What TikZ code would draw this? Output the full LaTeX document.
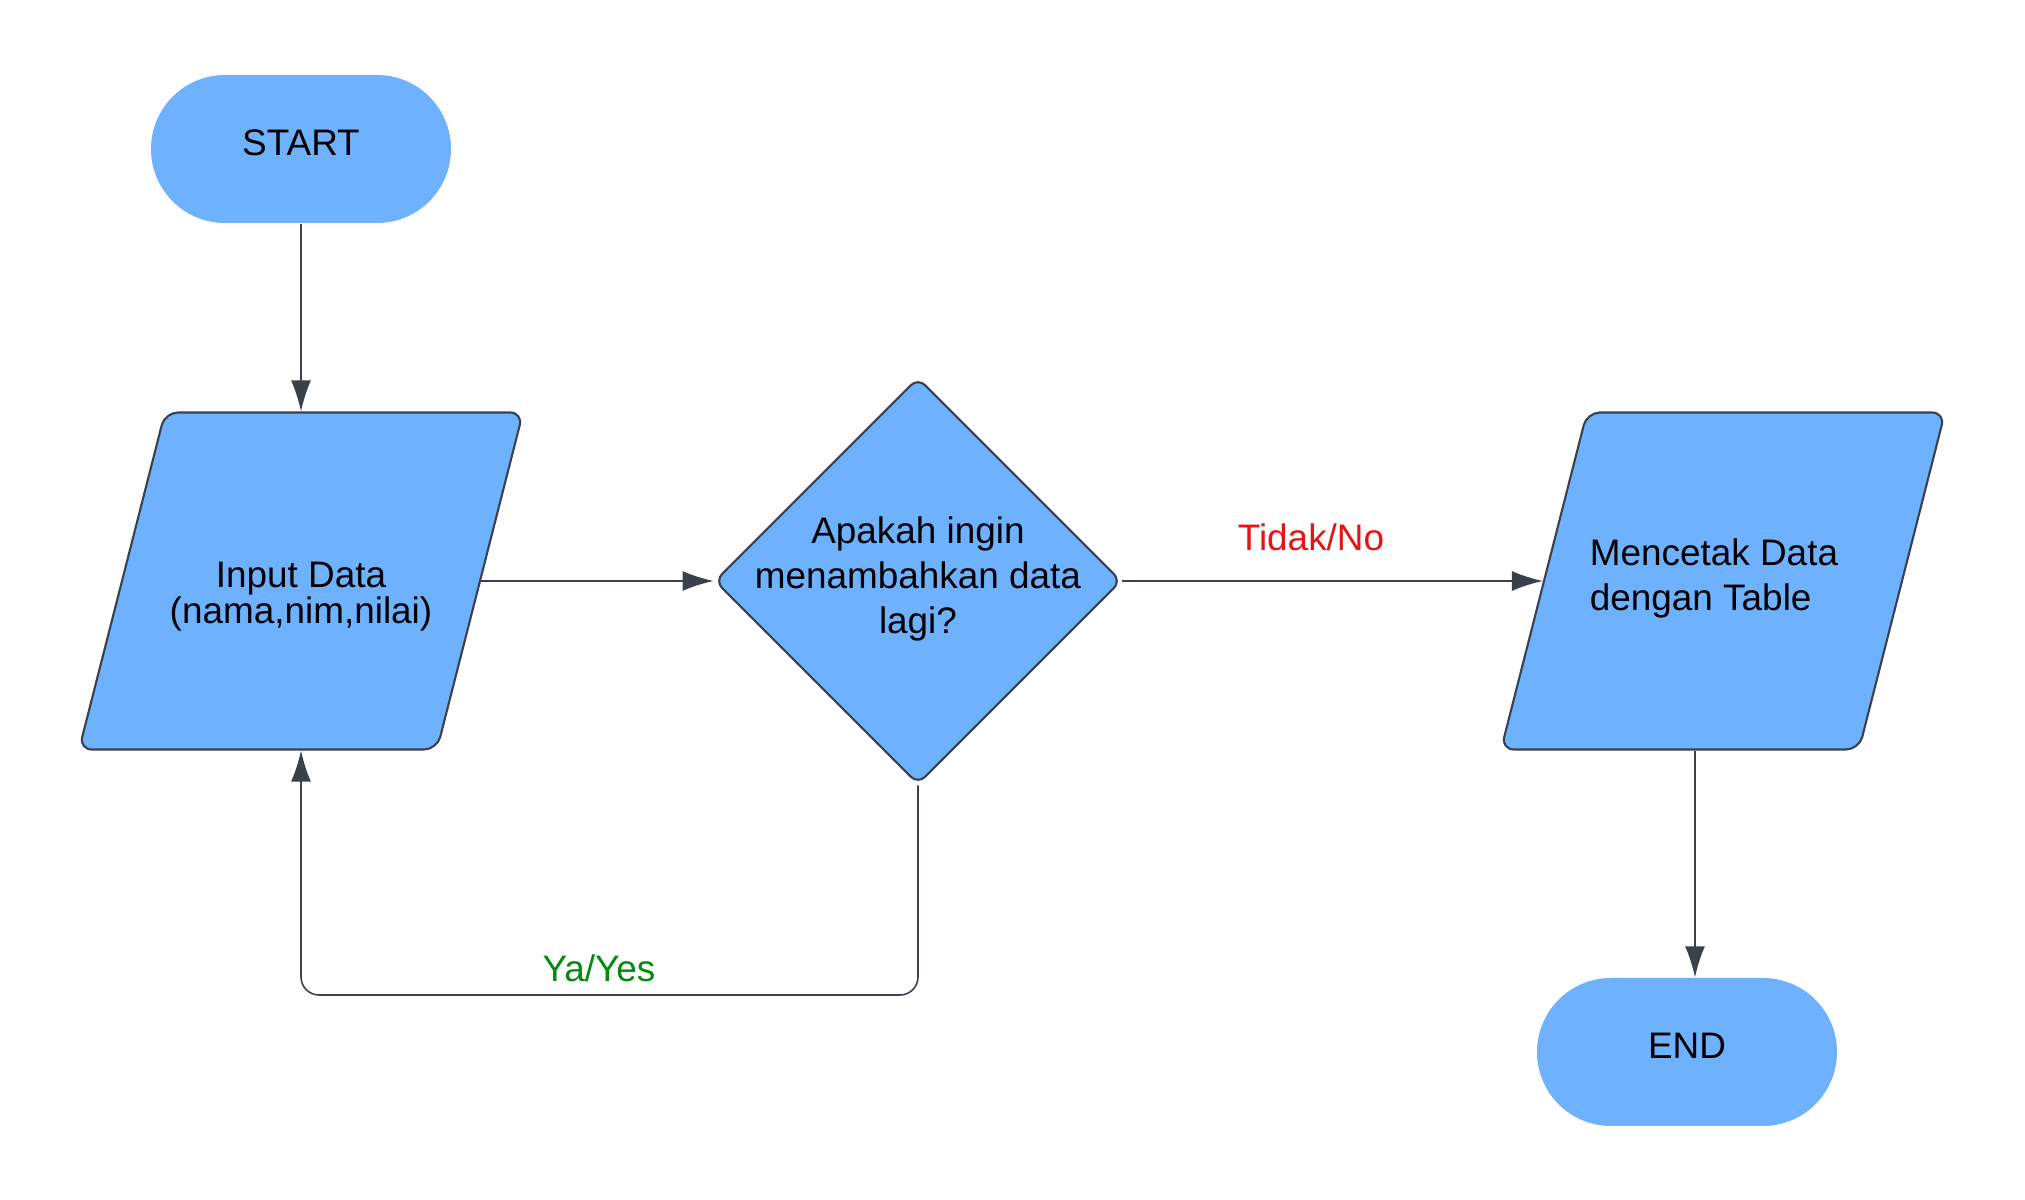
\documentclass[tikz,border=0pt]{standalone}
\usepackage{fontspec}
\setmainfont{Liberation Sans}
\usetikzlibrary{arrows.meta}
\definecolor{boxblue}{HTML}{6DB1FF}
\definecolor{edgegray}{HTML}{3A414A}
\definecolor{noRed}{HTML}{E81313}
\definecolor{yesGreen}{HTML}{008A0E}
\newcommand{\RowY}{6.19}

\begin{document}
\begin{tikzpicture}[
  every node/.style={font=\fontsize{10.5}{12.8}\selectfont},
  terminal/.style={rectangle, fill=boxblue, rounded corners=0.74cm,
    minimum width=3cm, minimum height=1.48cm, text depth=0.13cm},
  iobox/.style={rectangle, xslant=0.255, transform shape,
    minimum width=3.58cm, minimum height=3.37cm, inner sep=0pt,
    fill=boxblue, draw=edgegray, line width=0.6pt, rounded corners=0.13cm},
  decision/.style={rectangle, rotate=45, transform shape, minimum size=2.87cm, inner sep=0pt,
    fill=boxblue, draw=edgegray, line width=0.6pt, rounded corners=0.1cm},
  flow/.style={draw=edgegray, line width=0.45pt, -{Latex[length=3.1mm,width=2mm]}}
]

\useasboundingbox (0,0) rectangle (20.25,12);

\node[terminal] (start) at (3.01,10.51) {START};
\node[iobox] (in) at (3.01,\RowY) {};
\node[align=center, font=\fontsize{10.5}{10.2}\selectfont] (inText) at (3.01,6.03) {Input Data\\(nama,nim,nilai)};
\node[decision] (ask) at (9.18,\RowY) {};
\node[align=center] (askText) at (9.18,6.21) {Apakah ingin\\menambahkan data\\lagi?};
\node[iobox] (out) at (17.23,\RowY) {};
\node[align=left] (outText) at (17.14,6.22) {Mencetak Data\\dengan Table};
\node[terminal] (fin) at (16.87,1.48) {END};

% connectors (ask is a turned square: north west = left tip, south east = right tip)
\draw[flow] (start.south) -- (start.south |- in.north);
\draw[flow] (in.east) -- (ask.north west);
\draw[flow] (ask.south east) -- (out.west);
\draw[flow] ([xshift=0.08cm]fin.north |- out.south) -- ([xshift=0.08cm]fin.north);

\coordinate (loopL) at (3.01,2.05);
\draw[flow, rounded corners=0.18cm] (ask.south west) |- (loopL) -- (in.center |- in.south);

% labels
\node[text=noRed, anchor=base] (noLbl) at (13.11,6.49) {Tidak/No};
\node[text=yesGreen, anchor=base] (yesLbl) at (5.99,2.18) {Ya/Yes};

\end{tikzpicture}
\end{document}
